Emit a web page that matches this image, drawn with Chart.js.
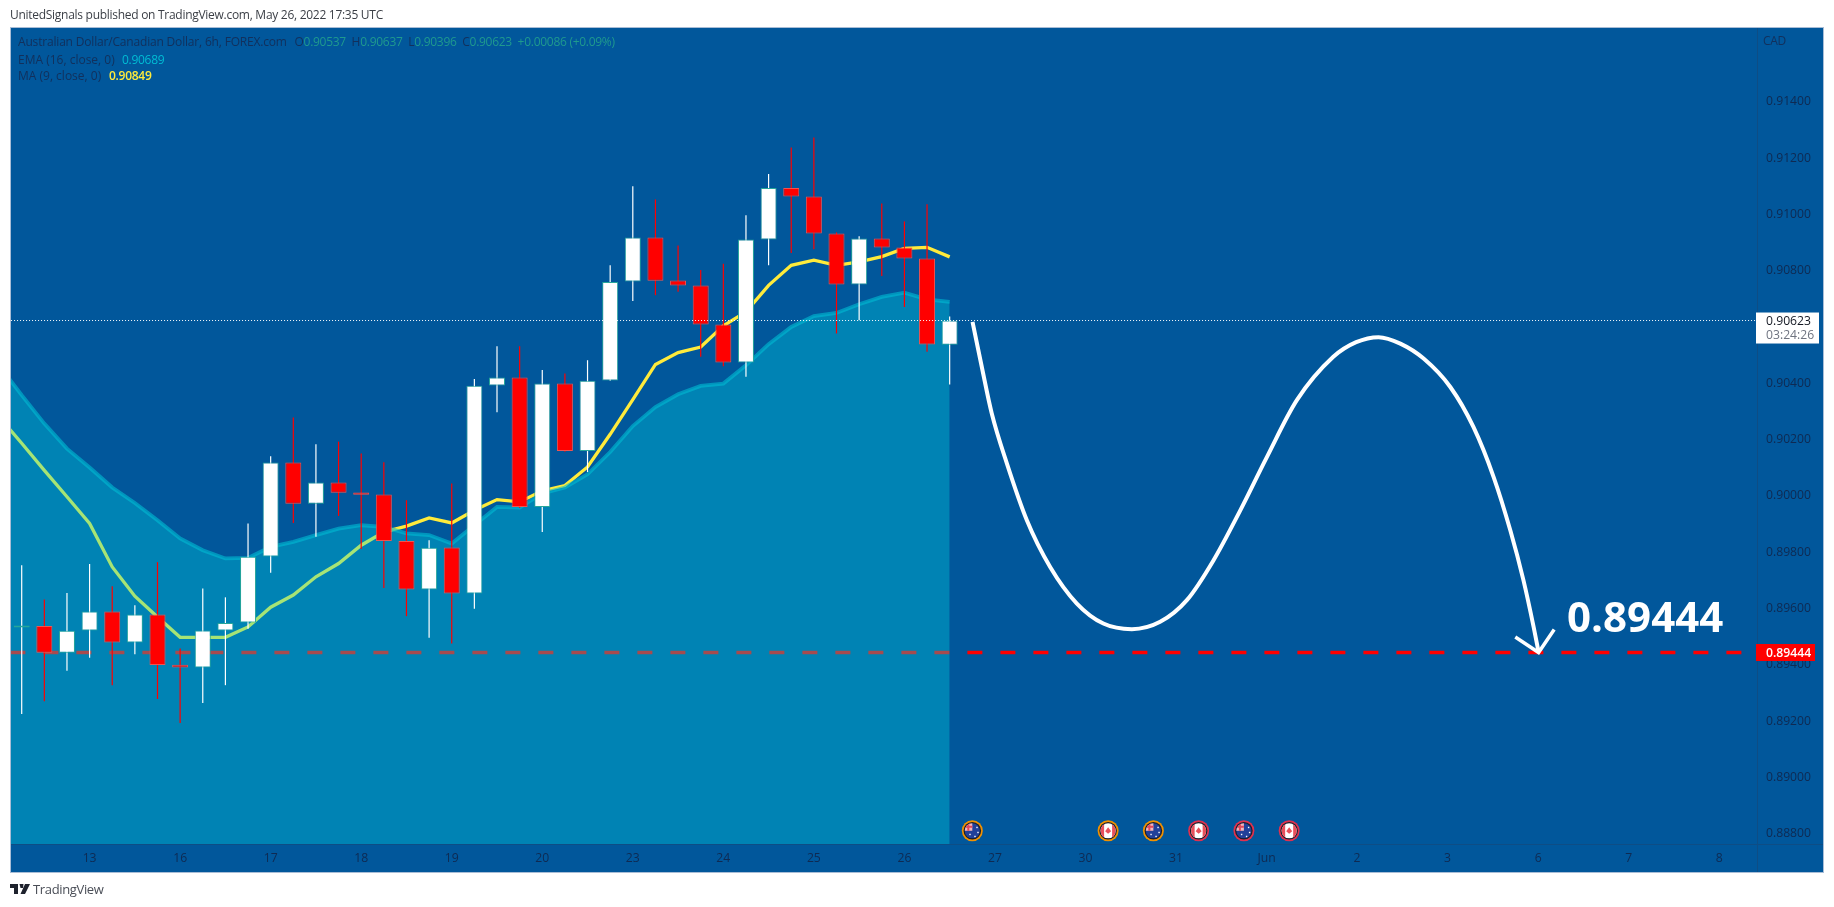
<!DOCTYPE html>
<html>
<head>
<meta charset="utf-8">
<title>AUD/CAD 6h</title>
<script src="https://cdn.jsdelivr.net/npm/chart.js@4"></script>
<style>
  html, body { margin: 0; padding: 0; background: #fff; overflow: hidden; }
  #wrap { position: relative; width: 1834px; height: 907px; font-family: "Open Sans", sans-serif; }
  canvas { position: absolute; left: 0; top: 0; }
  .txt { position: absolute; white-space: pre; font-size: 12px; line-height: 16px; letter-spacing: -0.28px; }
  .dim { color: #12305c; }
  .val { color: #1f9a8e; }
</style>
</head>
<body>
<div id="wrap">
  <canvas id="myChart" width="1834" height="907"></canvas>
  <div class="txt" style="left:10px;top:7px;color:#3b3f46">UnitedSignals published on TradingView.com, May 26, 2022 17:35 UTC</div>
  <div class="txt dim" style="left:18px;top:34px;letter-spacing:-0.18px">Australian Dollar/Canadian Dollar, 6h, FOREX.com</div>
  <div class="txt" style="left:294.5px;top:34px"><span class="dim">O</span><span class="val">0.90537</span><span class="dim">  H</span><span class="val">0.90637</span><span class="dim">  L</span><span class="val">0.90396</span><span class="dim">  C</span><span class="val">0.90623</span><span class="val">  +0.00086 (+0.09%)</span></div>
  <div class="txt dim" style="left:18px;top:52px;letter-spacing:0">EMA (16, close, 0)</div>
  <div class="txt" style="left:122px;top:52px;color:#00bcd4">0.90689</div>
  <div class="txt dim" style="left:18px;top:68px;letter-spacing:0">MA (9, close, 0)</div>
  <div class="txt" style="left:109px;top:68px;color:#ffeb3b;font-weight:600">0.90849</div>
  <div class="txt dim" style="left:1763px;top:33px">CAD</div>
  <svg style="position:absolute;left:10px;top:884px" width="20" height="11" viewBox="0 0 20 11">
    <path d="M0 0H8V10H4V4H0Z M9.5 0H13.5L13 4H10.5Z M15 0H20L15 10H10.5Z" fill="#1e222d"/>
  </svg>
  <div class="txt" style="left:33px;top:880px;color:#4a4e57;font-size:13px;line-height:18px;letter-spacing:-0.35px">TradingView</div>
</div>
<script>
// 6h candles
const opens = [0.89533,0.89538,0.89443,0.89522,0.89590,0.89480,0.89579,0.89401,0.89391,0.89522,0.89551,0.89785,0.90119,0.89972,0.90048,0.90012,0.90005,0.89840,0.89668,0.89817,0.89654,0.90392,0.90421,0.89961,0.90399,0.90160,0.90410,0.90762,0.90918,0.90765,0.90747,0.90609,0.90474,0.90911,0.91094,0.91063,0.90932,0.90751,0.90914,0.90882,0.90843,0.90537];
const closes = [0.89540,0.89443,0.89521,0.89590,0.89480,0.89579,0.89400,0.89391,0.89522,0.89549,0.89784,0.90119,0.89972,0.90048,0.90011,0.90004,0.89840,0.89668,0.89816,0.89654,0.90391,0.90421,0.89961,0.90399,0.90160,0.90409,0.90760,0.90918,0.90764,0.90747,0.90609,0.90474,0.90911,0.91094,0.91063,0.90932,0.90751,0.90914,0.90882,0.90843,0.90538,0.90623];
const highs = [0.89754,0.89632,0.89655,0.89758,0.89679,0.89612,0.89765,0.89458,0.89671,0.89640,0.89902,0.90141,0.90279,0.90184,0.90193,0.90151,0.90120,0.89985,0.89843,0.90044,0.90415,0.90532,0.90532,0.90447,0.90435,0.90482,0.90819,0.91100,0.91053,0.90889,0.90802,0.90825,0.90997,0.91143,0.91237,0.91273,0.90936,0.90922,0.91039,0.90975,0.91036,0.90637];
const lows = [0.89226,0.89271,0.89379,0.89425,0.89328,0.89438,0.89279,0.89194,0.89265,0.89328,0.89528,0.89727,0.89904,0.89855,0.89929,0.89812,0.89673,0.89573,0.89496,0.89476,0.89599,0.90297,0.89958,0.89872,0.90157,0.90085,0.90409,0.90692,0.90713,0.90725,0.90494,0.90461,0.90423,0.90819,0.90863,0.90876,0.90577,0.90624,0.90781,0.90671,0.90512,0.90396];

// first value of both averages belongs to the candle before the left edge
const maValues = [0.90281,0.90187,0.90091,0.89997,0.89902,0.89748,0.89644,0.89570,0.89498,0.89498,0.89498,0.89535,0.89605,0.89648,0.89713,0.89760,0.89825,0.89872,0.89893,0.89922,0.89904,0.89949,0.89987,0.89979,0.90018,0.90037,0.90103,0.90219,0.90342,0.90467,0.90509,0.90529,0.90604,0.90654,0.90748,0.90819,0.90837,0.90819,0.90831,0.90850,0.90879,0.90883,0.90849];
const emaValues = [0.90464,0.90358,0.90257,0.90168,0.90101,0.90030,0.89975,0.89914,0.89849,0.89807,0.89778,0.89780,0.89819,0.89837,0.89861,0.89884,0.89896,0.89890,0.89867,0.89861,0.89831,0.89896,0.89961,0.89959,0.90009,0.90030,0.90077,0.90156,0.90248,0.90316,0.90361,0.90391,0.90399,0.90464,0.90539,0.90600,0.90639,0.90650,0.90681,0.90707,0.90722,0.90698,0.90689];

// hand drawn projection
const curveX = [42.01,42.42,42.86,43.53,44.41,45.44,46.62,47.79,49.05,50.30,51.48,52.66,53.84,55.02,56.34,57.95,58.96,59.95,60.91,61.94,63.12,64.14,65.03,65.77,66.35,66.80,67.02];
const curveY = [0.90618,0.90458,0.90293,0.90115,0.89914,0.89748,0.89618,0.89547,0.89527,0.89553,0.89630,0.89772,0.89949,0.90139,0.90340,0.90494,0.90546,0.90564,0.90541,0.90488,0.90387,0.90245,0.90068,0.89878,0.89701,0.89535,0.89445];
const arrowX = [65.99,67.02,67.71];
const arrowY = [0.89499,0.89444,0.89526];

const lastPrice = 0.90623;
const targetPrice = 0.89444;
const targetLabel = "0.89444";
const countdown = "03:24:26";

const timeTickIdx = [3,7,11,15,19,23,27,31,35,39,43,47,51,55,59,63,67,71,75];
const timeTickLabels = ["13","16","17","18","19","20","23","24","25","26","27","30","31","Jun","2","3","6","7","8"];
const priceTicks = [0.914,0.912,0.91,0.908,0.904,0.902,0.9,0.898,0.896,0.894,0.892,0.89,0.888];

const eventIdx = [42,48,50,52,54,56];
const eventFlags = ["AU","CA","AU","CA","AU","CA"];
const eventRings = ["#f29100","#f29100","#f29100","#e0314f","#e0314f","#e0314f"];

const fontName = '"Open Sans", sans-serif';
const tickColor = "#0f2a52";

function xyData(xs, ys) {
  return xs.map((x, i) => ({ x: x, y: ys[i] }));
}

const isUp = opens.map((o, i) => closes[i] >= o);

// draws the frame, the price boxes, the big label and the calendar flags
const overlayPlugin = {
  id: "overlay",
  beforeDraw(chart) {
    const c = chart.ctx, a = chart.chartArea;
    c.save();
    c.fillStyle = "#01579b";
    c.fillRect(a.left, a.top, 1823 - a.left, 872 - a.top);
    c.strokeStyle = "#a9bdd6";
    c.lineWidth = 1;
    c.strokeRect(a.left - 0.5, a.top - 0.5, 1823 - a.left + 1, 872 - a.top + 1);
    c.strokeStyle = "#0e4d85";
    c.beginPath();
    c.moveTo(a.right + 0.5, a.top);
    c.lineTo(a.right + 0.5, 872);
    c.moveTo(a.left, a.bottom + 0.5);
    c.lineTo(1823, a.bottom + 0.5);
    c.stroke();
    c.restore();
  },
  afterDraw(chart) {
    const c = chart.ctx, a = chart.chartArea;
    const xs = chart.scales.x, ys = chart.scales.y;
    c.save();

    // big target text
    c.fillStyle = "#ffffff";
    c.font = "bold 42px " + fontName;
    c.textBaseline = "middle";
    c.textAlign = "left";
    c.fillText(targetLabel, xs.getPixelForValue(68.28), ys.getPixelForValue(0.89561));

    // last price box
    const yLast = ys.getPixelForValue(lastPrice);
    c.fillStyle = "#ffffff";
    c.fillRect(a.right - 1, yLast - 8, 63, 31);
    c.font = "12.2px " + fontName;
    c.fillStyle = "#131722";
    c.fillText(lastPrice.toFixed(5), a.right + 9, yLast + 1);
    c.fillStyle = "#6f7480";
    c.fillText(countdown, a.right + 9, yLast + 15);

    // target price box
    const yTarget = ys.getPixelForValue(targetPrice);
    c.fillStyle = "#ff0000";
    c.fillRect(a.right - 1, yTarget - 8.5, 59, 17);
    c.fillStyle = "#ffffff";
    c.font = "600 12.2px " + fontName;
    c.fillText(targetPrice.toFixed(5), a.right + 9, yTarget + 1);

    // flags on the economic calendar row
    eventIdx.forEach((idx, i) => drawFlag(c, xs.getPixelForValue(idx), ys.getPixelForValue(0.88811), eventFlags[i], eventRings[i]));
    c.restore();
  }
};

function drawFlag(c, x, y, flag, ring) {
  c.save();
  c.beginPath();
  c.arc(x, y, 10.5, 0, Math.PI * 2);
  c.fillStyle = ring;
  c.fill();
  c.beginPath();
  c.arc(x, y, 8.8, 0, Math.PI * 2);
  c.fillStyle = "#1b1f2a";
  c.fill();
  c.beginPath();
  c.arc(x, y, 7.6, 0, Math.PI * 2);
  c.clip();
  if (flag === "AU") {
    c.fillStyle = "#21409a";
    c.fillRect(x - 8, y - 8, 16, 16);
    c.fillStyle = "#f2b6bc";
    c.fillRect(x - 8, y - 8, 8, 8);
    c.fillStyle = "#e2485a";
    c.fillRect(x - 8, y - 5, 8, 2);
    c.fillRect(x - 5, y - 8, 2, 8);
    c.fillStyle = "#ffffff";
    [[-3, 3], [4, -4], [5, 1], [2, 5]].forEach(p => c.fillRect(x + p[0], y + p[1], 1.4, 1.4));
  } else {
    c.fillStyle = "#ffffff";
    c.fillRect(x - 8, y - 8, 16, 16);
    c.fillStyle = "#e8505b";
    c.fillRect(x - 8, y - 8, 4, 16);
    c.fillRect(x + 4, y - 8, 4, 16);
    c.beginPath();
    c.moveTo(x, y - 3.5);
    c.lineTo(x + 3, y + 0.5);
    c.lineTo(x, y + 3);
    c.lineTo(x - 3, y + 0.5);
    c.closePath();
    c.fill();
  }
  c.restore();
}

const ctx = document.getElementById("myChart").getContext("2d");

new Chart(ctx, {
  type: "bar",
  plugins: [overlayPlugin],
  data: {
    datasets: [
      {
        type: "line", order: 9, data: xyData([-0.5, 76], [targetPrice, targetPrice]),
        borderColor: "#ff0000", borderWidth: 3.4, borderDash: [15, 18], pointRadius: 0
      },
      {
        type: "line", order: 8, data: xyData(maValues.map((v, i) => i - 1), maValues),
        borderColor: "#ffeb3b", borderWidth: 3.3, pointRadius: 0, tension: 0
      },
      {
        type: "line", order: 7, data: xyData(emaValues.map((v, i) => i - 1), emaValues),
        borderColor: "rgba(0,188,212,0.6)", borderWidth: 3.8, pointRadius: 0, tension: 0,
        fill: "start", backgroundColor: "rgba(0,215,226,0.35)"
      },
      {
        order: 6, grouped: false, barThickness: 1.2, inflateAmount: 0,
        data: xyData(opens.map((v, i) => i), lows.map((v, i) => [v, highs[i]])),
        backgroundColor: isUp.map(u => u ? "#ffffff" : "#ff0000")
      },
      {
        order: 5, grouped: false, barThickness: 16, inflateAmount: 0, borderWidth: 1, borderSkipped: false,
        data: xyData(opens.map((v, i) => i), opens.map((v, i) => [Math.min(v, closes[i]), Math.max(v, closes[i])])),
        backgroundColor: isUp.map(u => u ? "#ffffff" : "#ff0000"),
        borderColor: isUp.map(u => u ? "#26a69a" : "#ef5350")
      },
      {
        type: "line", order: 4, data: xyData([-1, 78], [lastPrice, lastPrice]),
        borderColor: "#ffffff", borderWidth: 1, borderDash: [1, 2], pointRadius: 0
      },
      {
        type: "line", order: 3, data: xyData(curveX, curveY),
        borderColor: "#ffffff", borderWidth: 4, pointRadius: 0, cubicInterpolationMode: "monotone"
      },
      {
        type: "line", order: 2, data: xyData(arrowX, arrowY),
        borderColor: "#ffffff", borderWidth: 3.5, pointRadius: 0, tension: 0
      }
    ]
  },
  options: {
    responsive: false,
    animation: false,
    devicePixelRatio: 1,
    layout: { padding: { left: 11, top: 28, right: 11, bottom: 35 } },
    plugins: { legend: { display: false }, tooltip: { enabled: false } },
    scales: {
      x: {
        type: "linear", offset: false, min: -0.4728, max: 76.67,
        grid: { display: false, drawTicks: false }, border: { display: false },
        afterFit: s => { s.height = 28; },
        afterBuildTicks: s => { s.ticks = timeTickIdx.map(v => ({ value: v })); },
        ticks: {
          autoSkip: false, maxRotation: 0, padding: 7, color: tickColor,
          font: { family: fontName, size: 12.2 },
          callback: v => timeTickLabels[timeTickIdx.indexOf(v)]
        }
      },
      y: {
        type: "linear", position: "right", min: 0.88764, max: 0.916618,
        grid: { display: false, drawTicks: false }, border: { display: false },
        afterFit: s => { s.width = 66; },
        afterBuildTicks: s => { s.ticks = priceTicks.map(v => ({ value: v })); },
        ticks: {
          autoSkip: false, padding: 9, color: tickColor,
          font: { family: fontName, size: 12.2 },
          callback: v => v.toFixed(5)
        }
      }
    }
  }
});
</script>
</body>
</html>
